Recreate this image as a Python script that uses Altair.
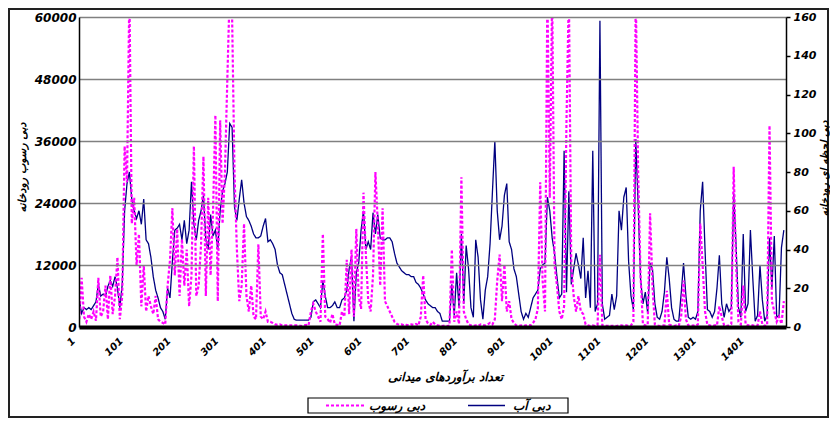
import altair as alt
import pandas as pd

# observation index (every 5th field measurement)
idx = list(range(1, 1477, 5))

# water discharge (right axis)
water = [
    14, 7, 10, 9, 10, 9, 11, 13, 22, 16,
    17, 16, 21, 24, 21, 26, 20, 10, 22, 60,
    74, 80, 66, 60, 56, 60, 53, 66, 45, 43,
    36, 26, 19, 15, 10, 8, 4, 20, 15, 34,
    50, 51, 53, 45, 55, 43, 50, 75, 53, 45,
    55, 60, 68, 45, 40, 58, 47, 50, 40, 60,
    70, 74, 80, 105, 103, 62, 55, 66, 76, 64,
    57, 55, 52, 48, 46, 46, 47, 52, 56, 44,
    45, 43, 40, 32, 28, 27, 22, 17, 12, 7,
    4, 3.5, 3.5, 3.5, 3.5, 3.5, 3.5, 5, 13, 14,
    12, 10, 24, 16, 10, 10, 11, 13, 10, 10,
    14, 15, 19, 30, 36, 3, 28, 33, 50, 60,
    40, 44, 40, 59, 48, 58, 46, 45, 45, 46,
    46, 44, 38, 33, 31, 29, 28, 27, 27, 26,
    26, 23, 22, 20, 17, 14, 12, 11, 10, 10,
    8, 7, 3, 3, 3, 3, 22, 6, 28, 10,
    48, 12, 42, 30, 10, 5, 45, 36, 14, 4,
    19, 26, 43, 70, 96, 60, 45, 52, 68, 74,
    44, 40, 30, 26, 17, 8, 4, 7, 5, 10,
    15, 17, 19, 30, 32, 33, 67, 60, 46, 38,
    26, 15, 17, 91, 18, 70, 22, 30, 38, 32,
    25, 46, 15, 29, 10, 91, 8, 12, 158, 12,
    4, 5, 6, 17, 9, 16, 60, 50, 67, 72,
    34, 16, 9, 97, 63, 25, 12, 18, 7, 33,
    30, 12, 5, 4, 8, 18, 36, 25, 10, 4,
    3, 3, 17, 33, 16, 5, 4, 5, 4, 8,
    60, 75, 40, 9, 8, 5, 8, 20, 37, 12,
    5, 12, 8, 10, 69, 42, 10, 5, 48, 8,
    12, 50, 25, 3, 6, 32, 14, 3, 6, 46,
    20, 47, 5, 6, 41, 50,
]

# sediment discharge (left axis)
sediment = [
    1500, 9500, 2000, 1000, 2500, 1500, 3000, 1200, 9500, 2000,
    3000, 8000, 1500, 10000, 2500, 6000, 13500, 1500, 6000, 35000,
    28000, 65000, 20000, 25000, 12000, 18000, 4000, 12000, 3000, 6000,
    4000, 2500, 6000, 1500, 1000, 800, 500, 8000, 13000, 23000,
    10000, 19000, 6000, 17000, 8000, 15000, 4000, 10000, 35000, 6000,
    8000, 16000, 33000, 6000, 25000, 10000, 22000, 41000, 5000, 40000,
    20000, 30000, 48000, 65000, 60000, 30000, 15000, 5000, 8000, 20000,
    6000, 3000, 8000, 2000, 1500, 16000, 2000, 1500, 3000, 1000,
    1000, 800, 500, 400, 500, 300, 300, 300, 300, 300,
    300, 300, 300, 200, 300, 400, 300, 3000, 4500, 3000,
    2000, 1000, 18000, 2000, 1500, 800, 2500, 500, 400, 300,
    3000, 2000, 13000, 2500, 15000, 2000, 19000, 6000, 3500, 26000,
    14000, 5000, 3000, 10000, 30000, 20000, 8000, 23000, 5000, 4000,
    3000, 2000, 1000, 600, 400, 500, 300, 400, 300, 500,
    400, 600, 300, 2000, 10000, 1500, 700, 400, 1000, 500,
    300, 200, 200, 300, 200, 300, 15000, 1000, 3000, 600,
    29000, 3000, 1500, 500, 300, 200, 300, 200, 500, 300,
    300, 500, 800, 500, 1500, 9000, 14000, 5000, 12000, 3000,
    5000, 1500, 800, 300, 200, 300, 200, 300, 400, 300,
    800, 1500, 3500, 28000, 9000, 3000, 65000, 25000, 65000, 12000,
    8000, 3000, 1500, 4000, 40000, 65000, 12000, 6000, 3000, 6000,
    3000, 2500, 500, 300, 200, 300, 200, 400, 14000, 300,
    300, 200, 300, 200, 300, 200, 300, 300, 200, 300,
    200, 300, 1000, 65000, 30000, 10000, 500, 300, 400, 22000,
    8000, 500, 300, 200, 300, 300, 7000, 500, 300, 200,
    300, 200, 2000, 9000, 1500, 300, 200, 300, 200, 500,
    20000, 12000, 3000, 400, 300, 200, 300, 300, 4000, 2000,
    300, 200, 300, 600, 31000, 12000, 1000, 500, 8000, 500,
    300, 400, 300, 200, 300, 3000, 500, 200, 300, 39000,
    5000, 3000, 1000, 2000, 600, 5000,
]

x_ticks = [1, 101, 201, 301, 401, 501, 601, 701, 801, 901, 1001, 1101, 1201, 1301, 1401]
left_ticks = [0, 12000, 24000, 36000, 48000, 60000]
right_ticks = [0, 20, 40, 60, 80, 100, 120, 140, 160]
series_names = ["دبی رسوب", "دبی آب"]
series_colors = ["#FF00FF", "#000080"]

FONT = "DejaVu Sans"
W, H = 707, 310

df_w = pd.DataFrame({"idx": idx, "value": water, "series": series_names[1]})
df_s = pd.DataFrame({"idx": idx, "value": sediment, "series": series_names[0]})

x_enc = alt.X(
    "idx:Q",
    scale=alt.Scale(domain=[0.5, 1480.5], nice=False, zero=False),
    axis=alt.Axis(
        values=x_ticks, format="d", labelAngle=-45, labelAlign="right", labelBaseline="middle",
        labelFont=FONT, labelFontSize=10, labelFontStyle="italic", labelFontWeight="bold",
        labelColor="black", labelPadding=12, labelOffset=-6, labelFlush=False, labelOverlap=False,
        ticks=False, domainColor="black", domainWidth=4, grid=False, zindex=1,
        title="تعداد برآوردهای میدانی", titleX=366, titleY=49,
        titleAlign="center", titleBaseline="middle", titleFont=FONT,
        titleFontSize=12, titleFontStyle="italic", titleFontWeight="bold", titleColor="black",
    ),
)

color_enc = alt.Color(
    "series:N", scale=alt.Scale(domain=series_names, range=series_colors), legend=None,
)
dash_enc = alt.StrokeDash(
    "series:N", scale=alt.Scale(domain=series_names, range=[[3, 2], [1, 0]]), legend=None,
)

sed_line = alt.Chart(df_s).mark_line(strokeWidth=2.2, clip=True).encode(
    x=x_enc,
    y=alt.Y(
        "value:Q",
        scale=alt.Scale(domain=[0, 60000], nice=False),
        axis=alt.Axis(
            orient="left", values=left_ticks, format="d", grid=True,
            gridColor="#808080", gridWidth=1.5, domainColor="black", domainWidth=1.5,
            ticks=False, labelPadding=3, labelFont=FONT, labelFontSize=12,
            labelFontStyle="italic", labelFontWeight="bold", labelColor="black", zindex=1,
            title="دبی رسوب رودخانه", titleAngle=270, titleX=-57, titleY=150,
            titleAlign="center", titleBaseline="middle", titleFont=FONT, titleFontSize=11,
            titleFontStyle="italic", titleFontWeight="bold", titleColor="black",
        ),
    ),
    color=color_enc,
    strokeDash=dash_enc,
)

water_line = alt.Chart(df_w).mark_line(strokeWidth=1.3, clip=True).encode(
    x=x_enc,
    y=alt.Y(
        "value:Q",
        scale=alt.Scale(domain=[0, 160], nice=False),
        axis=alt.Axis(
            orient="right", values=right_ticks, format="d", grid=False,
            domainColor="black", domainWidth=1.5, ticks=True, tickSize=4,
            tickColor="black", tickWidth=1.5, labelPadding=3, labelFont=FONT,
            labelFontSize=11, labelFontStyle="italic", labelFontWeight="bold",
            labelColor="black", zindex=1,
            title="دبی لحظه ای رودخانه", titleAngle=270, titleX=38, titleY=151,
            titleAlign="center", titleBaseline="middle", titleFont=FONT, titleFontSize=10.5,
            titleFontStyle="italic", titleFontWeight="bold", titleColor="black",
        ),
    ),
    color=color_enc,
    strokeDash=dash_enc,
)

frame_df = pd.DataFrame({"k": [0]})
border = alt.Chart(frame_df).mark_rect(fillOpacity=0, stroke="#222222", strokeWidth=2).encode(
    x=alt.value(-70), x2=alt.value(749), y=alt.value(-8), y2=alt.value(400)
)
legend_box = alt.Chart(frame_df).mark_rect(fill="white", stroke="black", strokeWidth=1.2).encode(
    x=alt.value(229), x2=alt.value(489), y=alt.value(381), y2=alt.value(396)
)
LEG_Y = 388.5
leg_sed_sym = alt.Chart(frame_df).mark_rule(
    color=series_colors[0], strokeWidth=2, strokeDash=[3, 2]
).encode(x=alt.value(247), x2=alt.value(285), y=alt.value(LEG_Y))
leg_sed_txt = alt.Chart(frame_df).mark_text(
    text=series_names[0], align="left", baseline="middle", font=FONT, fontSize=12,
    fontStyle="italic", fontWeight="bold", color="black",
).encode(x=alt.value(290), y=alt.value(LEG_Y))
leg_w_sym = alt.Chart(frame_df).mark_rule(
    color=series_colors[1], strokeWidth=1.5
).encode(x=alt.value(389), x2=alt.value(426), y=alt.value(LEG_Y))
leg_w_txt = alt.Chart(frame_df).mark_text(
    text=series_names[1], align="left", baseline="middle", font=FONT, fontSize=12,
    fontStyle="italic", fontWeight="bold", color="black",
).encode(x=alt.value(434), y=alt.value(LEG_Y))

chart = (
    alt.layer(border, legend_box, leg_sed_sym, leg_sed_txt, leg_w_sym, leg_w_txt,
              water_line, sed_line)
    .resolve_scale(y="independent")
    .properties(
        width=W, height=H,
        autosize=alt.AutoSizeParams(type="none"),
        padding={"left": 71, "top": 9, "right": 44, "bottom": 91},
        background="white",
    )
    .configure_view(strokeWidth=0)
)

chart.save("out.html", embed_options={"renderer": "svg", "actions": False})
